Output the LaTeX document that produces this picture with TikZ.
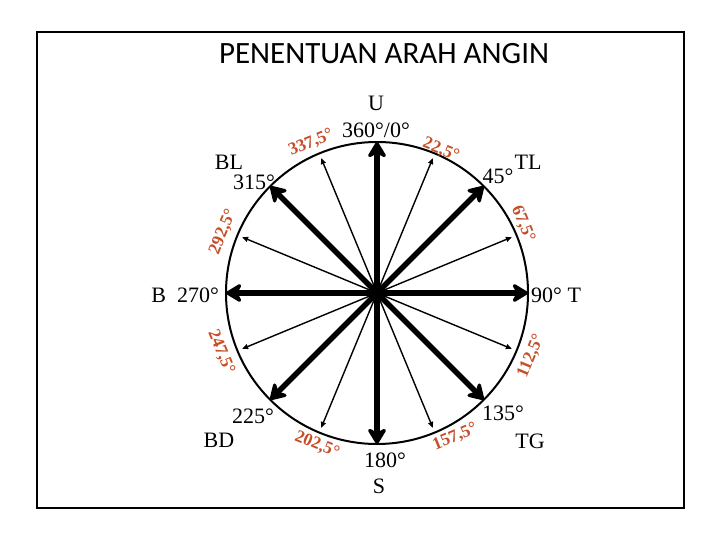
\documentclass[tikz,border=0pt]{standalone}
\usepackage{fontspec}
\setmainfont{Liberation Serif}
\newfontfamily\titlefont{Carlito}
\usetikzlibrary{arrows.meta,calc}
\definecolor{redlab}{RGB}{196,78,40}
\begin{document}
\begin{tikzpicture}[x=1pt,y=-1pt,
  lab/.style={font=\fontsize{22}{24}\selectfont, inner sep=0pt},
  redl/.style={font=\fontsize{17.5}{19}\selectfont\bfseries, text=redlab, inner sep=0pt},
  thick arrow/.style={line width=5.5pt, -{Stealth[length=19pt,width=23pt,inset=6pt,round]}, shorten >=-1pt},
  thin arrow/.style={line width=1.4pt, -{Triangle[length=6pt,width=5pt]}},
  ring/.style={line width=2pt}]
\useasboundingbox (0,0) rectangle (720,540);
\draw[line width=2pt] (37,32) rectangle (684,508);
\node[font=\titlefont\fontsize{31}{34}\selectfont, anchor=base, inner sep=0pt] (title) at (384,64) {PENENTUAN ARAH ANGIN};
\coordinate (O) at (377,293);
\draw[ring] (O) circle[radius=151];
% thin arrows
\foreach \a/\n in {22.5/a1,67.5/a2,112.5/a3,157.5/a4,202.5/a5,247.5/a6,292.5/a7,337.5/a8}{
  \coordinate (\n) at ($(O)+({146*sin(\a)},{-146*cos(\a)})$);
  \draw[thin arrow] (O) -- (\n);
}
% thick arrows
\foreach \a/\n in {0/m1,45/m2,90/m3,135/m4,180/m5,225/m6,270/m7,315/m8}{
  \coordinate (\n) at ($(O)+({150*sin(\a)},{-150*cos(\a)})$);
  \draw[thick arrow] (O) -- (\n);
}
% black labels
\node[lab] (u) at (376,103) {U};
\node[lab] (n0) at (376,130) {360°/0°};
\node[lab] (bl) at (229,162) {BL};
\node[lab] (n315) at (254,182) {315°};
\node[lab] (tl) at (528,162) {TL};
\node[lab] (n45) at (498,176) {45°};
\node[lab, anchor=east] (b) at (219,295) {B\hspace{0.5em}270°};
\node[lab, anchor=west] (t) at (531,295) {90° T};
\node[lab] (n225) at (253,416) {225°};
\node[lab] (bd) at (219,440) {BD};
\node[lab] (n180) at (385,460) {180°};
\node[lab] (s) at (379,486) {S};
\node[lab] (n135) at (503,413) {135°};
\node[lab] (tg) at (530,441) {TG};
% red labels
\node[redl, rotate=22.5] (r1) at (311,143) {337,5°};
\node[redl, rotate=-22.5] (r2) at (441,150) {22,5°};
\node[redl, rotate=-67.5] (r3) at (523,224) {67,5°};
\node[redl, rotate=67.5] (r4) at (531,356) {112,5°};
\node[redl, rotate=22.5] (r5) at (455,437) {157,5°};
\node[redl, rotate=-22.5] (r6) at (317,445) {202,5°};
\node[redl, rotate=-67.5] (r7) at (221,352) {247,5°};
\node[redl, rotate=67.5] (r8) at (223,232) {292,5°};
\end{tikzpicture}
\end{document}
